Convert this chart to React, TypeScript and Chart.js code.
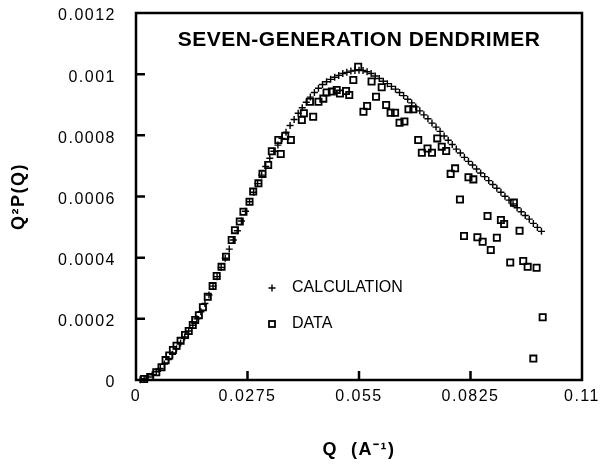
import React, { useEffect, useRef } from 'react';
import { Chart, registerables } from 'chart.js';
Chart.register(...registerables);

const FONT = '"Liberation Sans", Arial, Helvetica, sans-serif';
const TITLE = 'SEVEN-GENERATION DENDRIMER';
const X_TITLE = 'Q  (A\u207B\u00B9)';
const Y_TITLE = 'Q\u00B2P(Q)';
const LEGEND_LABELS = ['CALCULATION', 'DATA'];

const xTicks = [0, 0.0275, 0.055, 0.0825, 0.11];
const xTickLabels = ['0', '0.0275', '0.055', '0.0825', '0.11'];
const yTicks = [0, 0.0002, 0.0004, 0.0006, 0.0008, 0.001, 0.0012];
const yTickLabels = ['0', '0.0002', '0.0004', '0.0006', '0.0008', '0.001', '0.0012'];

// CALCULATION (+)
const calcQ = [
  0.001, 0.002, 0.003, 0.004, 0.005, 0.006, 0.007, 0.008, 0.009, 0.010,
  0.011, 0.012, 0.013, 0.014, 0.015, 0.016, 0.017, 0.018, 0.019, 0.020,
  0.021, 0.022, 0.023, 0.024, 0.025, 0.026, 0.027, 0.028, 0.029, 0.030,
  0.031, 0.032, 0.033, 0.034, 0.035, 0.036, 0.037, 0.038, 0.039, 0.040,
  0.041, 0.042, 0.043, 0.044, 0.045, 0.046, 0.047, 0.048, 0.049, 0.050,
  0.051, 0.052, 0.053, 0.054, 0.055, 0.056, 0.057, 0.058, 0.059, 0.060,
  0.061, 0.062, 0.063, 0.064, 0.065, 0.066, 0.067, 0.068, 0.069, 0.070,
  0.071, 0.072, 0.073, 0.074, 0.075, 0.076, 0.077, 0.078, 0.079, 0.080,
  0.081, 0.082, 0.083, 0.084, 0.085, 0.086, 0.087, 0.088, 0.089, 0.090,
  0.091, 0.092, 0.093, 0.094, 0.095, 0.096, 0.097, 0.098, 0.099, 0.100,
];
const calcV = [
  0.01e-4, 0.04e-4, 0.10e-4, 0.17e-4, 0.27e-4, 0.38e-4, 0.52e-4, 0.67e-4, 0.84e-4, 1.02e-4,
  1.21e-4, 1.41e-4, 1.60e-4, 1.79e-4, 2.00e-4, 2.23e-4, 2.50e-4, 2.78e-4, 3.07e-4, 3.38e-4,
  3.68e-4, 3.98e-4, 4.28e-4, 4.58e-4, 4.88e-4, 5.20e-4, 5.52e-4, 5.83e-4, 6.14e-4, 6.42e-4,
  6.70e-4, 6.98e-4, 7.25e-4, 7.48e-4, 7.68e-4, 7.90e-4, 8.10e-4, 8.32e-4, 8.52e-4, 8.72e-4,
  8.90e-4, 9.08e-4, 9.25e-4, 9.40e-4, 9.54e-4, 9.66e-4, 9.75e-4, 9.83e-4, 9.90e-4, 9.96e-4,
  10.02e-4, 10.06e-4, 10.10e-4, 10.12e-4, 10.13e-4, 10.12e-4, 10.08e-4, 10.02e-4, 9.94e-4, 9.86e-4,
  9.77e-4, 9.69e-4, 9.60e-4, 9.51e-4, 9.40e-4, 9.30e-4, 9.18e-4, 9.06e-4, 8.93e-4, 8.80e-4,
  8.67e-4, 8.54e-4, 8.40e-4, 8.27e-4, 8.13e-4, 7.98e-4, 7.84e-4, 7.70e-4, 7.55e-4, 7.42e-4,
  7.28e-4, 7.15e-4, 7.03e-4, 6.90e-4, 6.77e-4, 6.65e-4, 6.52e-4, 6.39e-4, 6.27e-4, 6.14e-4,
  6.01e-4, 5.88e-4, 5.76e-4, 5.63e-4, 5.50e-4, 5.38e-4, 5.26e-4, 5.12e-4, 4.99e-4, 4.86e-4,
];

// DATA (open squares)
const dataQ = [
  0.0020, 0.0035, 0.0050, 0.0063, 0.0073, 0.0082, 0.0091, 0.0100, 0.0110, 0.0121,
  0.0130, 0.0140, 0.0146, 0.0155, 0.0165, 0.0177, 0.0189, 0.0199, 0.0211, 0.0222,
  0.0236, 0.0244, 0.0256, 0.0265, 0.0280, 0.0289, 0.0302, 0.0312, 0.0326, 0.0335,
  0.0351, 0.0357, 0.0368, 0.0382, 0.0409, 0.0414, 0.0429, 0.0437, 0.0450, 0.0462,
  0.0470, 0.0483, 0.0495, 0.0503, 0.0518, 0.0526, 0.0536, 0.0548, 0.0561, 0.0570,
  0.0581, 0.0592, 0.0606, 0.0617, 0.0628, 0.0639, 0.0650, 0.0662, 0.0672, 0.0684,
  0.0696, 0.0705, 0.0719, 0.0730, 0.0743, 0.0754, 0.0765, 0.0776, 0.0787, 0.0799,
  0.0809, 0.0820, 0.0832, 0.0842, 0.0855, 0.0867, 0.0875, 0.0890, 0.0900, 0.0908,
  0.0923, 0.0932, 0.0946, 0.0955, 0.0966, 0.0980, 0.0988, 0.1003,
];
const dataV = [
  0.03e-4, 0.10e-4, 0.25e-4, 0.42e-4, 0.65e-4, 0.80e-4, 0.98e-4, 1.12e-4, 1.28e-4, 1.47e-4,
  1.60e-4, 1.80e-4, 1.96e-4, 2.12e-4, 2.38e-4, 2.72e-4, 3.07e-4, 3.40e-4, 3.70e-4, 4.03e-4,
  4.58e-4, 4.90e-4, 5.18e-4, 5.50e-4, 5.83e-4, 6.16e-4, 6.43e-4, 6.74e-4, 7.03e-4, 7.48e-4,
  7.85e-4, 7.39e-4, 7.98e-4, 7.85e-4, 8.50e-4, 8.72e-4, 9.10e-4, 8.61e-4, 9.10e-4, 9.20e-4,
  9.40e-4, 9.43e-4, 9.48e-4, 9.37e-4, 9.45e-4, 9.32e-4, 9.81e-4, 10.24e-4, 8.77e-4, 8.96e-4,
  9.76e-4, 9.26e-4, 9.57e-4, 8.99e-4, 8.74e-4, 8.74e-4, 8.41e-4, 8.45e-4, 8.85e-4, 8.85e-4,
  7.85e-4, 7.43e-4, 7.57e-4, 7.43e-4, 7.90e-4, 7.63e-4, 7.49e-4, 6.74e-4, 6.92e-4, 5.90e-4,
  4.71e-4, 6.63e-4, 6.56e-4, 4.67e-4, 4.52e-4, 5.36e-4, 4.25e-4, 4.65e-4, 5.23e-4, 5.10e-4,
  3.84e-4, 5.80e-4, 4.88e-4, 3.89e-4, 3.70e-4, 0.70e-4, 3.67e-4, 2.05e-4,
];

const framePlugin = {
  id: 'frameAndAnnotations',
  beforeDraw(chart: any) {
    const ctx = chart.ctx;
    ctx.save();
    ctx.fillStyle = '#ffffff';
    ctx.fillRect(0, 0, chart.width, chart.height);
    ctx.restore();
    ctx.letterSpacing = '1.5px';
  },
  afterDraw(chart: any) {
    const { ctx, chartArea: a, scales } = chart;
    ctx.save();
    ctx.letterSpacing = '0px';
    ctx.strokeStyle = '#000';
    ctx.lineWidth = 2.5;
    ctx.strokeRect(a.left, a.top, a.right - a.left, a.bottom - a.top);
    ctx.beginPath();
    yTicks.slice(1, -1).forEach((v) => {
      const y = scales.y.getPixelForValue(v);
      ctx.moveTo(a.left, y);
      ctx.lineTo(a.left + 9, y);
    });
    xTicks.slice(1, -1).forEach((v) => {
      const x = scales.x.getPixelForValue(v);
      ctx.moveTo(x, a.bottom);
      ctx.lineTo(x, a.bottom - 9);
    });
    ctx.stroke();

    // title inside plot
    ctx.fillStyle = '#000';
    ctx.font = `bold 21px ${FONT}`;
    ctx.letterSpacing = '0.5px';
    ctx.textAlign = 'center';
    ctx.textBaseline = 'middle';
    ctx.fillText(TITLE, (a.left + a.right) / 2, a.top + 27);
    ctx.letterSpacing = '0px';

    // legend
    const mx = a.left + 136;
    const tx = a.left + 156;
    const y1 = a.top + 275;
    const y2 = a.top + 311;
    ctx.lineWidth = 1.4;
    ctx.beginPath();
    ctx.moveTo(mx - 3.5, y1);
    ctx.lineTo(mx + 3.5, y1);
    ctx.moveTo(mx, y1 - 3.5);
    ctx.lineTo(mx, y1 + 3.5);
    ctx.stroke();
    ctx.lineWidth = 1.8;
    ctx.strokeRect(mx - 3, y2 - 3, 6, 6);
    ctx.font = `16px ${FONT}`;
    ctx.textAlign = 'left';
    ctx.fillText(LEGEND_LABELS[0], tx, y1);
    ctx.fillText(LEGEND_LABELS[1], tx, y2);
    ctx.restore();
  },
};

export default function App() {
  const canvasRef = useRef<HTMLCanvasElement | null>(null);

  useEffect(() => {
    const canvas = canvasRef.current;
    if (!canvas) return;
    const chart = new Chart(canvas, {
      type: 'scatter',
      data: {
        datasets: [
          {
            label: LEGEND_LABELS[0],
            data: calcQ.map((q, i) => ({ x: q, y: calcV[i] })),
            pointStyle: 'cross',
            pointRadius: 3.5,
            borderColor: '#000',
            backgroundColor: '#000',
            borderWidth: 1.4,
            showLine: false,
          },
          {
            label: LEGEND_LABELS[1],
            data: dataQ.map((q, i) => ({ x: q, y: dataV[i] })),
            pointStyle: 'rect',
            pointRadius: 4.4,
            borderColor: '#000',
            backgroundColor: 'rgba(0,0,0,0)',
            borderWidth: 1.8,
            showLine: false,
          },
        ],
      },
      options: {
        animation: false,
        responsive: false,
        events: [],
        clip: false,
        layout: { padding: { top: 13, right: 19, left: 0, bottom: 0 } },
        plugins: {
          legend: { display: false },
          tooltip: { enabled: false },
          title: { display: false },
        },
        scales: {
          x: {
            type: 'linear',
            min: 0,
            max: 0.11,
            afterBuildTicks: (s: any) => {
              s.ticks = xTicks.map((v) => ({ value: v }));
            },
            afterFit: (s: any) => {
              s.height = 91;
              s.paddingLeft = 0;
              s.paddingRight = 0;
              s.paddingTop = 0;
              s.paddingBottom = 0;
            },
            grid: { display: false, drawTicks: false },
            border: { display: false },
            ticks: {
              color: '#000',
              font: { family: FONT, size: 16 },
              padding: 7,
              maxRotation: 0,
              autoSkip: false,
              callback: (_v: any, i: number) => xTickLabels[i],
            },
            title: {
              display: true,
              text: X_TITLE,
              color: '#000',
              font: { family: FONT, size: 18, weight: 'bold' },
              padding: { top: 0, bottom: 10 },
            },
          },
          y: {
            type: 'linear',
            min: 0,
            max: 0.0012,
            afterBuildTicks: (s: any) => {
              s.ticks = yTicks.map((v) => ({ value: v }));
            },
            afterFit: (s: any) => {
              s.width = 136;
              s.paddingLeft = 0;
              s.paddingRight = 0;
              s.paddingTop = 0;
              s.paddingBottom = 0;
            },
            grid: { display: false, drawTicks: false },
            border: { display: false },
            ticks: {
              color: '#000',
              font: { family: FONT, size: 16 },
              padding: 20,
              labelOffset: 3,
              autoSkip: false,
              callback: (_v: any, i: number) => yTickLabels[i],
            },
            title: {
              display: true,
              text: Y_TITLE,
              color: '#000',
              font: { family: FONT, size: 18, weight: 'bold' },
              padding: { top: 8, bottom: 0 },
            },
          },
        },
      },
      plugins: [framePlugin],
    } as any);
    return () => chart.destroy();
  }, []);

  return (
    <div style={{ position: 'absolute', left: 0, top: 0, width: 601, height: 471, background: '#fff' }}>
      <canvas ref={canvasRef} width={601} height={471} style={{ width: 601, height: 471, display: 'block' }} />
    </div>
  );
}
